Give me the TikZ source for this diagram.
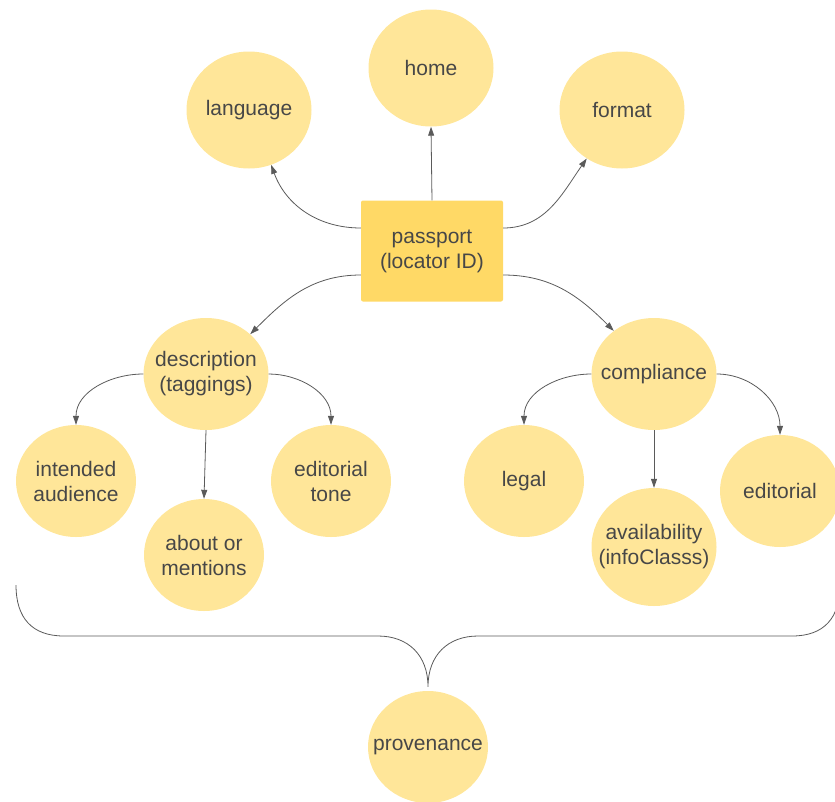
\documentclass[tikz,border=0pt]{standalone}
\usepackage{fontspec}
\setmainfont{Liberation Sans}
\usepackage{xcolor}
\usepackage{tikz}
\usetikzlibrary{shapes,arrows.meta}
\definecolor{bubble}{HTML}{FFE699}
\definecolor{passfill}{HTML}{FFD966}
\definecolor{ink}{HTML}{474747}
\definecolor{wire}{HTML}{5A5A5A}
\tikzset{ell/.style={ellipse,fill=bubble,minimum width=120pt,minimum height=112pt,inner sep=-30pt,align=center,text=ink,font=\fontsize{21}{25}\selectfont}}
\tikzset{pass/.style={rectangle,rounded corners=2pt,fill=passfill,minimum width=142pt,minimum height=101pt,inner sep=0pt,align=center,text=ink,font=\fontsize{21}{25}\selectfont}}
\tikzset{wire/.style={draw=wire,line width=0.8pt}}

\begin{document}
\begin{tikzpicture}[x=1pt,y=-1pt,>={Triangle[length=9pt,width=6pt]}]
        \useasboundingbox (0,0) rectangle (835,801);
        \node[pass] (p) at (432,251) {passport\\(locator ID)};
        \node[ell,minimum width=125pt,minimum height=117pt] (h) at (431,68) {home};
        \node[ell,minimum width=125pt,minimum height=117pt] (l) at (249,110) {language};
        \node[ell,minimum width=125pt,minimum height=117pt] (f) at (622,110) {format};
        \node[ell,minimum width=125pt] (d) at (206,374) {description\\(taggings)};
        \node[ell,minimum width=125pt] (c) at (654,374) {compliance};
        \node[ell] (i) at (76,481) {intended\\audience};
        \node[ell] (a) at (204,555) {about or\\mentions};
        \node[ell] (t) at (331,481) {editorial\\tone};
        \node[ell] (g) at (524,481) {legal};
        \node[ell,minimum width=125pt,minimum height=118pt] (v) at (654,547) {availability\\(infoClasss)};
        \node[ell] (e) at (780,491) {editorial};
        \node[ell] (o) at (428,747) {provenance};

        \coordinate (bl) at (16,585);
        \coordinate (br) at (840,585);

        \draw [wire,->] ([yshift=23pt]p.west) to [out=180,in=-70] (l.-68);
        \draw [wire,->] (p.north) to [] (h.south);
        \draw [wire,->] ([yshift=23pt]p.east) to [out=0,in=-125] (f.-126);
        \draw [wire,->] ([yshift=-24pt]p.west) to [out=180,in=45] (d.42);
        \draw [wire,->] ([yshift=-24pt]p.east) to [out=0,in=135] (c.133);
        \draw [wire,->] (d.west) to [out=180,in=90] (i.north);
        \draw [wire,->] (d.south) to [] (a.north);
        \draw [wire,->] (d.east) to [out=0,in=90] (t.north);
        \draw [wire,->] (c.west) to [out=180,in=90] (g.north);
        \draw [wire,->] (c.south) to [] (v.north);
        \draw [wire,->] (c.east) to [out=0,in=90] (e.north);

        \draw [wire] (bl) .. controls (16,618) and (32,636) .. (64,636) -- (378,636)
            .. controls (408,636) and (428,655) .. ([yshift=4pt]o.north)
            .. controls (428,655) and (448,636) .. (478,636) -- (792,636)
            .. controls (824,636) and (840,618) .. (br);
    \end{tikzpicture}
\end{document}
